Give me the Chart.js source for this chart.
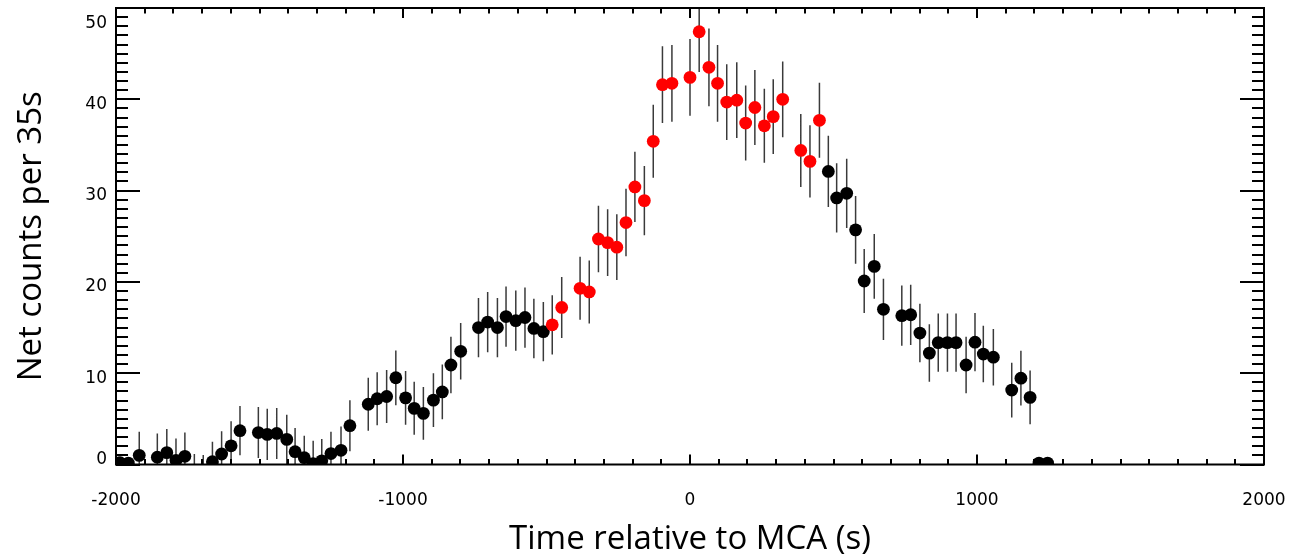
<!DOCTYPE html>
<html>
<head>
<meta charset="utf-8">
<script src="https://cdn.jsdelivr.net/npm/chart.js@4"></script>
<style>
  body { margin: 0; background: #fff; }
  #wrap { width: 1304px; height: 558px; position: relative; }
</style>
</head>
<body>
<div id="wrap"><canvas id="chartMca"></canvas></div>
<script>
// time relative to MCA (s), net counts per 35 s bin, 1-sigma error
const tBlack1 = [-1986, -1957, -1919, -1856, -1823, -1791, -1760, -1727, -1696, -1664, -1632, -1599, -1568,
  -1504, -1473, -1440, -1405, -1376, -1344, -1313, -1283, -1251, -1216, -1185,
  -1121, -1090, -1057, -1025, -991, -961, -929, -894, -863, -833, -799,
  -737, -705, -671, -641, -607, -575, -544, -511];
const cBlack1 = [0.2, 0.15, 1.0, 0.8, 1.3, 0.45, 0.9, -1.05, -1.15, 0.3, 1.15, 2.05, 3.7,
  3.5, 3.3, 3.4, 2.75, 1.4, 0.75, 0.1, 0.4, 1.2, 1.55, 4.25,
  6.6, 7.2, 7.45, 9.5, 7.3, 6.15, 5.6, 7.05, 7.95, 10.9, 12.4,
  15.0, 15.6, 15.0, 16.2, 15.75, 16.1, 14.9, 14.55];
const eBlack1 = [0, 0, 2.6, 2.6, 2.6, 2.4, 2.6, 2.2, 2.2, 2.2, 2.5, 2.7, 2.7,
  2.8, 2.8, 2.8, 2.7, 2.6, 2.4, 2.5, 2.4, 2.4, 2.6, 2.8,
  2.9, 2.9, 2.9, 3.0, 2.95, 2.9, 2.9, 2.95, 3.0, 3.1, 3.1,
  3.25, 3.3, 3.25, 3.3, 3.3, 3.3, 3.25, 3.25];

const tRed = [-480, -447, -383, -351, -319, -287, -255, -223, -192, -159, -128, -96, -63,
  0, 32, 66, 96, 128, 163, 194, 226, 259, 290, 323, 386, 418, 451];
const cRed = [15.3, 17.2, 19.3, 18.9, 24.7, 24.3, 23.8, 26.5, 30.4, 28.9, 35.4, 41.6, 41.75,
  42.4, 47.4, 43.5, 41.75, 39.7, 39.9, 37.4, 39.1, 37.1, 38.1, 40.0, 34.4, 33.2, 37.7];
const eRed = [3.25, 3.35, 3.45, 3.45, 3.65, 3.65, 3.6, 3.7, 3.85, 3.8, 4.0, 4.2, 4.2,
  4.2, 4.4, 4.25, 4.2, 4.15, 4.15, 4.1, 4.1, 4.05, 4.1, 4.15, 4.0, 3.95, 4.1];

const tBlack2 = [482, 511, 546, 577, 607, 642, 674, 738, 769, 801, 834, 865, 897, 927,
  962, 993, 1022, 1057, 1121, 1153, 1185, 1216, 1246];
const cBlack2 = [32.1, 29.2, 29.7, 25.7, 20.1, 21.7, 17.0, 16.3, 16.4, 14.4, 12.2, 13.35, 13.35, 13.35,
  10.9, 13.4, 12.1, 11.75, 8.15, 9.45, 7.35, 0.15, 0.15];
const eBlack2 = [3.9, 3.8, 3.8, 3.7, 3.5, 3.55, 3.35, 3.3, 3.3, 3.2, 3.15, 3.2, 3.2, 3.2,
  3.1, 3.2, 3.1, 3.1, 3.0, 3.0, 2.95, 0, 0];

const xTickVals = [-2000, -1000, 0, 1000, 2000];
const yTickVals = [0, 10, 20, 30, 40, 50];

const tBlack = tBlack1.concat(tBlack2);
const cBlack = cBlack1.concat(cBlack2);
const eBlack = eBlack1.concat(eBlack2);

function pts(t, c) {
  return t.map((x, i) => ({ x: x, y: c[i] }));
}
function errBars(t, c, e) {
  const out = [];
  t.forEach((x, i) => {
    if (!e[i]) return;
    out.push({ x: x, y: c[i] - e[i] }, { x: x, y: c[i] + e[i] }, { x: x, y: null });
  });
  return out;
}

// IDL-style frame with inward ticks on all four sides
const frameTicks = {
  id: 'frameTicks',
  afterDatasetsDraw(chart) {
    const { ctx, chartArea: a, scales: { x, y } } = chart;
    ctx.save();
    ctx.strokeStyle = '#000';
    ctx.lineWidth = 2;
    ctx.beginPath();
    for (let v = -2000; v <= 2000; v += 100) {
      const px = Math.round(x.getPixelForValue(v));
      const len = xTickVals.includes(v) ? 10 : 5.5;
      ctx.moveTo(px, a.bottom); ctx.lineTo(px, a.bottom - len);
      ctx.moveTo(px, a.top); ctx.lineTo(px, a.top + len);
    }
    for (let v = 0; v <= 50; v += 1) {
      const py = Math.round(y.getPixelForValue(v));
      const len = yTickVals.includes(v) ? 24 : 12;
      ctx.moveTo(a.left, py); ctx.lineTo(a.left + len, py);
      ctx.moveTo(a.right, py); ctx.lineTo(a.right - len, py);
    }
    ctx.stroke();
    ctx.strokeRect(a.left, a.top, a.right - a.left, a.bottom - a.top);
    ctx.restore();
  }
};

function noPad(scale) {
  scale.paddingTop = 0;
  scale.paddingBottom = 0;
  scale.paddingLeft = 0;
  scale.paddingRight = 0;
}

const tickFont = { family: "'DejaVu Sans', sans-serif", size: 17 };
const titleFont = { family: "'Open Sans', sans-serif", size: 33, lineHeight: 1.1 };

new Chart(document.getElementById('chartMca'), {
  type: 'scatter',
  data: {
    datasets: [
      {
        type: 'line',
        label: 'errors',
        data: errBars(tBlack, cBlack, eBlack).concat(errBars(tRed, cRed, eRed)),
        borderColor: '#3a3a3a',
        borderWidth: 1.5,
        pointRadius: 0,
        spanGaps: false,
        clip: 0,
        order: 3
      },
      {
        label: 'outside',
        data: pts(tBlack, cBlack),
        backgroundColor: '#000',
        borderWidth: 0,
        pointRadius: 6.4,
        clip: 0,
        order: 1
      },
      {
        label: 'MCA',
        data: pts(tRed, cRed),
        backgroundColor: '#ff0000',
        borderWidth: 0,
        pointRadius: 6.4,
        clip: 0,
        order: 0
      }
    ]
  },
  options: {
    responsive: true,
    maintainAspectRatio: false,
    animation: false,
    devicePixelRatio: 1,
    layout: { padding: { left: 0, right: 40, top: 8, bottom: 0 } },
    plugins: { legend: { display: false }, tooltip: { enabled: false } },
    scales: {
      x: {
        type: 'linear',
        min: -2000,
        max: 2000,
        grid: { display: false, drawTicks: false },
        border: { display: false },
        ticks: {
          stepSize: 1000,
          autoSkip: false,
          maxRotation: 0,
          padding: 26,
          color: '#000',
          font: tickFont,
          callback: v => String(v)
        },
        title: {
          display: true,
          text: 'Time relative to MCA (s)',
          color: '#000',
          font: titleFont,
          padding: { top: 0, bottom: 0 }
        },
        afterFit(scale) { scale.height = 93.5; noPad(scale); }
      },
      y: {
        type: 'linear',
        min: 0,
        max: 50,
        grid: { display: false, drawTicks: false },
        border: { display: false },
        ticks: {
          stepSize: 10,
          padding: 9,
          labelOffset: 5,
          color: '#000',
          font: tickFont,
          // end labels sit inside the frame, as in the original plot
          callback: v => v === 50 ? ['', '50'] : v === 0 ? ['0', ''] : String(v)
        },
        title: {
          display: true,
          text: 'Net counts per 35s',
          color: '#000',
          font: titleFont,
          padding: { top: 13, bottom: 0 }
        },
        afterFit(scale) { scale.width = 116; noPad(scale); }
      }
    }
  },
  plugins: [frameTicks]
});
</script>
</body>
</html>
